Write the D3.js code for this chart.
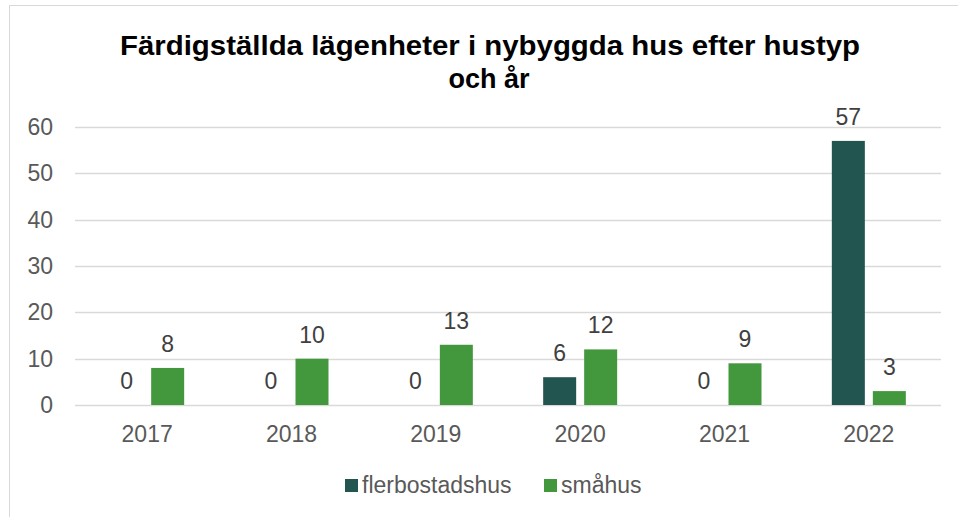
<!DOCTYPE html>
<html>
<head>
<meta charset="utf-8">
<script src="https://cdn.jsdelivr.net/npm/d3@7"></script>
<style>
  body { margin: 0; background: #fff; }
  svg { font-family: "Liberation Sans", Arial, sans-serif; display: block; }
</style>
</head>
<body>
<div id="chart"></div>
<script>
// data
const years = ['2017', '2018', '2019', '2020', '2021', '2022'];
const seriesNames = ['flerbostadshus', 'småhus'];
const flerbostadshus = [0, 0, 0, 6, 0, 57];
const smahus = [8, 10, 13, 12, 9, 3];
const yTicks = [0, 10, 20, 30, 40, 50, 60];
const titleLines = ['Färdigställda lägenheter i nybyggda hus efter hustyp', 'och år'];

const colors = ['#225450', '#43983e'];
const width = 958, height = 517;

const svg = d3.select('#chart')
  .append('svg')
  .attr('width', width)
  .attr('height', height);

// chart frame
svg.append('rect')
  .attr('x', 9.5).attr('y', 5.5)
  .attr('width', 960).attr('height', 530)
  .attr('fill', '#fff')
  .attr('stroke', '#d9d9d9');

// title (slightly wide glyphs in the original)
let title = svg.append('text')
  .attr('text-anchor', 'middle')
  .attr('font-size', 27).attr('font-weight', 'bold')
  .attr('fill', '#000');
title.append('tspan')
  .attr('x', 490).attr('y', 55)
  .attr('textLength', 740).attr('lengthAdjust', 'spacingAndGlyphs')
  .text(titleLines[0]);
title.append('tspan')
  .attr('x', 489).attr('y', 88)
  .text(titleLines[1]);

// scales
let x = d3.scaleBand().domain(years).range([75, 941]);
let y = d3.scaleLinear().domain([0, 60]).range([405, 127]);
let xSub = d3.scaleBand().domain(seriesNames).range([-37, 37]).paddingInner(0.195);

// gridlines
svg.append('g')
  .selectAll('line')
  .data(yTicks)
  .join('line')
  .attr('x1', 75).attr('x2', 941)
  .attr('y1', d => Math.round(y(d)) + 0.5)
  .attr('y2', d => Math.round(y(d)) + 0.5)
  .attr('stroke', '#d9d9d9')
  .attr('stroke-width', 1.5);

// y axis labels
svg.append('g')
  .selectAll('text')
  .data(yTicks)
  .join('text')
  .attr('x', 53)
  .attr('y', d => y(d) + 8)
  .attr('text-anchor', 'end')
  .attr('font-size', 23)
  .attr('fill', '#595959')
  .text(d => d);

// x axis labels
svg.append('g')
  .selectAll('text')
  .data(years)
  .join('text')
  .attr('x', d => x(d) + x.bandwidth() / 2)
  .attr('y', 442)
  .attr('text-anchor', 'middle')
  .attr('font-size', 23)
  .attr('fill', '#595959')
  .text(d => d);

// bars
let rows = [];
years.forEach((yr, i) => {
  rows.push({ year: yr, key: seriesNames[0], value: flerbostadshus[i], c: colors[0] });
  rows.push({ year: yr, key: seriesNames[1], value: smahus[i], c: colors[1] });
});

let barG = svg.append('g');
barG.selectAll('rect')
  .data(rows)
  .join('rect')
  .attr('x', d => x(d.year) + x.bandwidth() / 2 + xSub(d.key))
  .attr('width', xSub.bandwidth())
  .attr('y', d => y(d.value))
  .attr('height', d => y(0) - y(d.value))
  .attr('fill', d => d.c);

// value labels
barG.selectAll('text')
  .data(rows)
  .join('text')
  .attr('x', d => x(d.year) + x.bandwidth() / 2 + xSub(d.key) + xSub.bandwidth() / 2)
  .attr('y', d => y(d.value) - 16)
  .attr('text-anchor', 'middle')
  .attr('font-size', 23)
  .attr('fill', '#404040')
  .text(d => d.value);

// legend
let legend = svg.append('g');
let legendX = [345, 544];
seriesNames.forEach((name, i) => {
  legend.append('rect')
    .attr('x', legendX[i]).attr('y', 479)
    .attr('width', 13).attr('height', 13)
    .attr('fill', colors[i]);
  legend.append('text')
    .attr('x', legendX[i] + 17).attr('y', 493)
    .attr('font-size', 23)
    .attr('fill', '#595959')
    .text(name);
});
</script>
</body>
</html>
